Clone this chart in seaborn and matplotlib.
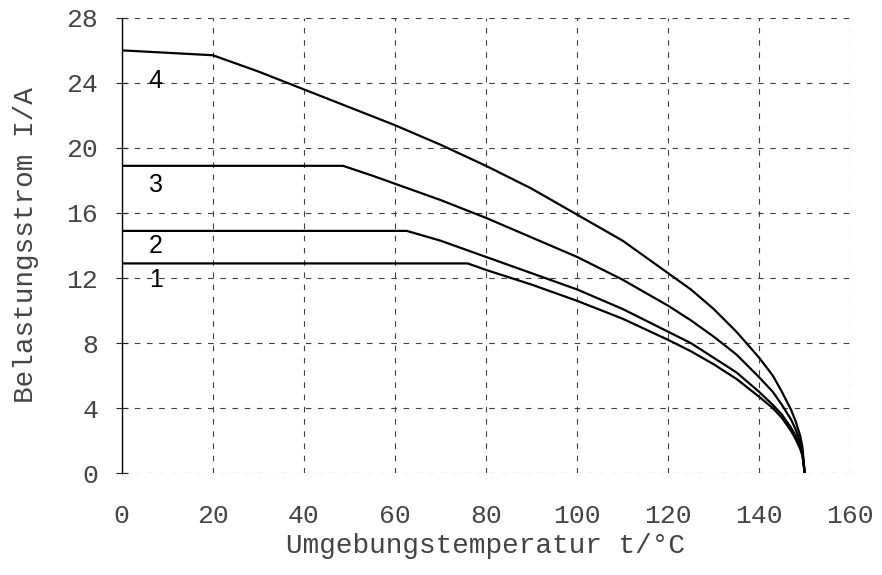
import matplotlib
matplotlib.use("Agg")
import matplotlib.pyplot as plt
import seaborn as sns
import pandas as pd

# Derating curves: load current vs. ambient temperature
t_4 = [0, 20, 30, 40, 50, 60, 70, 80, 90, 100, 110, 120, 125, 130, 135, 140, 143, 145, 147, 148, 149, 149.5, 150]
i_4 = [26.0, 25.7, 24.7, 23.6, 22.5, 21.4, 20.2, 18.9, 17.5, 15.9, 14.3, 12.3, 11.3, 10.1, 8.7, 7.1, 6.0, 5.0, 3.9, 3.2, 2.3, 1.6, 0.0]

t_3 = [0, 48.6, 55, 60, 70, 80, 90, 100, 110, 120, 125, 130, 135, 140, 143, 145, 147, 148, 149, 149.5, 150]
i_3 = [18.9, 18.9, 18.3, 17.8, 16.8, 15.7, 14.5, 13.3, 11.9, 10.3, 9.4, 8.4, 7.3, 5.9, 5.0, 4.2, 3.3, 2.7, 1.9, 1.3, 0.0]

t_2 = [0, 62.6, 70, 80, 90, 100, 110, 120, 125, 130, 135, 140, 143, 145, 147, 148, 149, 149.5, 150]
i_2 = [14.9, 14.9, 14.3, 13.3, 12.3, 11.3, 10.1, 8.7, 8.0, 7.1, 6.2, 5.0, 4.2, 3.6, 2.8, 2.3, 1.6, 1.1, 0.0]

t_1 = [0, 76, 80, 90, 100, 110, 120, 125, 130, 135, 140, 143, 145, 147, 148, 149, 149.5, 150]
i_1 = [12.9, 12.9, 12.5, 11.6, 10.6, 9.5, 8.2, 7.5, 6.7, 5.8, 4.7, 4.0, 3.4, 2.6, 2.1, 1.5, 1.1, 0.0]

curve_names = ["1", "2", "3", "4"]
label_pos_t = [7.5, 7.5, 7.5, 7.3]
label_pos_i = [11.9, 14.0, 17.7, 24.1]

x_ticks = [0, 20, 40, 60, 80, 100, 120, 140, 160]
y_ticks = [0, 4, 8, 12, 16, 20, 24, 28]

frames = []
for name, t, i in zip(curve_names, [t_1, t_2, t_3, t_4], [i_1, i_2, i_3, i_4]):
    frames.append(pd.DataFrame({"t": t, "I": i, "Kurve": name}))
df = pd.concat(frames, ignore_index=True)

sns.set_style("white")
plt.rcParams["font.family"] = ["Liberation Mono", "DejaVu Sans Mono"]

fig = plt.figure(figsize=(8.82, 5.75), dpi=100)
ax = fig.add_axes([0.138, 0.177, 0.826, 0.792])

for name in curve_names:
    sns.lineplot(data=df[df["Kurve"] == name], x="t", y="I", color="black",
                 linewidth=1.6, sort=False, estimator=None, ax=ax, legend=False)

for name, tx, iy in zip(curve_names, label_pos_t, label_pos_i):
    ax.text(tx, iy, name, fontsize=18, family=["Liberation Sans"],
            ha="center", va="center", color="black")

ax.set_xlim(0, 160)
ax.set_ylim(0, 28)
ax.set_xticks(x_ticks)
ax.set_yticks(y_ticks)
ax.set_xticklabels([str(v) for v in x_ticks], fontsize=19, color="#444444")
ax.set_yticklabels([str(v) for v in y_ticks], fontsize=19, color="#444444")

ax.grid(True, color="0.25", linestyle=(0, (5, 6)), linewidth=0.8)
ax.set_axisbelow(True)

for side in ["top", "right", "bottom"]:
    ax.spines[side].set_visible(False)
ax.spines["left"].set_color("black")
ax.spines["left"].set_linewidth(1.0)

ax.tick_params(axis="y", direction="inout", length=8, width=0.8, pad=13, left=True)
ax.tick_params(axis="x", length=0, pad=22)

ax.set_xlabel("Umgebungstemperatur t/°C", fontsize=20, color="#444444", labelpad=4)
ax.set_ylabel("Belastungsstrom I/A", fontsize=20, color="#444444", labelpad=20)

fig.savefig("out.png", dpi=100)
